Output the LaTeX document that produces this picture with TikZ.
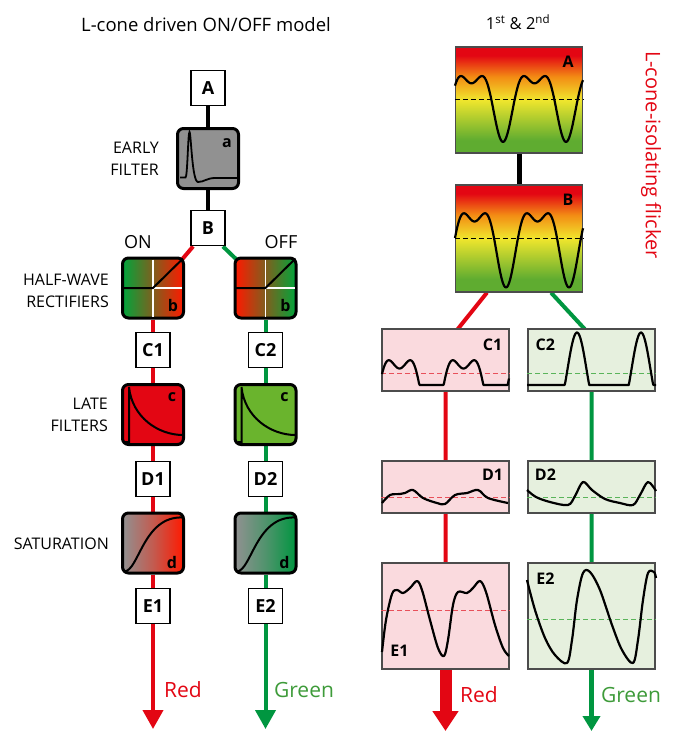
\documentclass[tikz,border=0pt]{standalone}
\usepackage{fontspec}
\setmainfont{Open Sans}
\usetikzlibrary{arrows.meta, backgrounds, math}
\definecolor{myred}{RGB}{227, 6, 19}
\definecolor{mygreen}{RGB}{0, 150, 64}
\definecolor{txtgreen}{RGB}{62, 155, 58}
\definecolor{lategreen}{RGB}{106, 180, 45}
\definecolor{filtgray}{RGB}{145, 145, 145}
\definecolor{pinkbg}{RGB}{250, 218, 222}
\definecolor{greenbg}{RGB}{230, 240, 222}
\definecolor{rectgreen}{RGB}{0, 165, 60}
\definecolor{rectred}{RGB}{255, 25, 0}
\definecolor{flgreen}{RGB}{95, 172, 48}
\definecolor{flyellow}{RGB}{240, 230, 45}
\definecolor{florange}{RGB}{243, 140, 20}
\definecolor{dashred}{RGB}{232, 80, 90}
\definecolor{dashgreen}{RGB}{90, 180, 90}
\pgfdeclareverticalshading{flick}{100bp}{color(0bp)=(flgreen); color(31bp)=(flgreen); color(50bp)=(flyellow); color(61bp)=(florange); color(71bp)=(myred); color(100bp)=(myred)}
\pgfmathdeclarefunction{sig}{1}{\pgfmathparse{cos(#1)-0.5*cos(2*(#1))}}

\tikzset{
  lbox/.style={draw, fill=white, line width=1.8, minimum width=34, minimum height=35, inner sep=0, font=\fontsize{18}{18}\selectfont\bfseries},
  filt/.style={draw, line width=3, rounded corners=6, minimum width=61, minimum height=60, inner sep=0},
  flet/.style={inner sep=0, font=\fontsize{16}{16}\selectfont\bfseries},
  wbox/.style={draw=black!70, line width=1.2, minimum width=127, inner sep=0},
  wlet/.style={inner sep=0, font=\fontsize{16}{16}\selectfont\bfseries},
  side/.style={align=right, anchor=east, inner sep=0, font=\fontsize{16}{22}\selectfont},
  wave/.style={line width=2.2, line join=round},
  mean/.style={line width=1, dash pattern=on 5pt off 3pt},
}

\begin{document}
\begin{tikzpicture}[x=1pt, y=-1pt]
\tikzmath{
\k=360/63;
\kc=360/64;
}
\useasboundingbox (0,0) rectangle (683,732);

%%%%%%%%%% titles
\node[font=\fontsize{18.5}{20}\selectfont] (ttl) at (206,25) {L-cone driven ON/OFF model};
\node[font=\fontsize{16.5}{18}\selectfont] (harm) at (518,22) {1\textsuperscript{st} \& 2\textsuperscript{nd}};
\node[rotate=-90, text=myred, font=\fontsize{20}{22}\selectfont] (flick) at (651,155) {L-cone-isolating flicker};

%%%%%%%%%% left model
\node[lbox] (A) at (208,88) {A};
\node[filt, fill=filtgray] (fa) at (208,158.5) {};
\node[lbox] (B) at (208,228) {B};
\node[side] (early) at (159,159) {EARLY\\FILTER};
\node[flet] (la) at ([xshift=-13,yshift=-16]fa.north east) {a};
\draw[line width=1.8] (180,177.5) -- (185.5,177.5) .. controls (187.5,177.5) and (188,132) .. (189.5,132)
  .. controls (191,132) and (192,182) .. (198,182) .. controls (204,182) and (207,178) .. (215,178) -- (237,178);

\node[font=\fontsize{18}{18}\selectfont, inner sep=0] (on) at (138,242) {ON};
\node[font=\fontsize{18}{18}\selectfont, inner sep=0] (off) at (281,242) {OFF};

% rectifiers
\node[filt, left color=rectgreen, right color=rectred] (fb1) at (153,288) {};
\node[filt, left color=rectred, right color=rectgreen] (fb2) at (265.5,288) {};
\node[side] (half) at (109,290.5) {HALF-WAVE\\RECTIFIERS};
\foreach \f in {fb1,fb2}{
  \draw[white, line width=1.5] ([yshift=-3]\f.north) -- ([yshift=3]\f.south);
  \draw[white, line width=1.5] (\f.center) -- ([xshift=-3]\f.east);
  \draw[line width=2] ([xshift=2]\f.west) -- (\f.center) -- ([xshift=-2,yshift=-2]\f.north east);
  \node[flet] (l\f) at ([xshift=-12,yshift=14]\f.south east) {b};
}

\node[lbox] (C1) at (153,350) {C1};
\node[lbox] (C2) at (265.5,350) {C2};

% late filters
\node[filt, fill=myred] (fc1) at (153,414.5) {};
\node[filt, fill=lategreen] (fc2) at (265.5,414.5) {};
\node[side] (late) at (108,414.5) {LATE\\FILTERS};
\foreach \f in {fc1,fc2}{
  \draw[line width=2] ([xshift=4,yshift=4]\f.south west) -- ([xshift=8,yshift=4]\f.south west) -- ([xshift=8,yshift=-4]\f.north west)
    .. controls +(3,30) and +(-25,0) .. ([xshift=-2,yshift=11]\f.south east);
  \node[flet] (l\f) at ([xshift=-13,yshift=-14]\f.north east) {c};
}

\node[lbox] (D1) at (153,479) {D1};
\node[lbox] (D2) at (265.5,479) {D2};

% saturation
\node[filt, left color=filtgray, right color=rectred, middle color=filtgray!55!rectred] (fd1) at (153,543) {};
\node[filt, left color=filtgray, right color=mygreen, middle color=filtgray!55!mygreen] (fd2) at (265.5,543) {};
\node[side] (sat) at (109,544) {SATURATION};
\foreach \f in {fd1,fd2}{
  \draw[line width=2] ([xshift=3,yshift=3]\f.south west) .. controls +(15,0) and +(-40,-2) .. ([xshift=-2,yshift=-6]\f.north east);
  \node[flet] (l\f) at ([xshift=-13,yshift=12]\f.south east) {d};
}

\node[lbox] (E1) at (153,606) {E1};
\node[lbox] (E2) at (265.5,606) {E2};

\coordinate (redtip) at (153,729);
\coordinate (greentip) at (265.5,729);
\node[text=myred, font=\fontsize{21}{22}\selectfont, inner sep=0] (red) at (183,690) {Red};
\node[text=txtgreen, font=\fontsize{21}{22}\selectfont, inner sep=0] (green) at (304,690) {Green};

\begin{scope}[on background layer]
\draw[line width=4.5] (A) -- (fa) -- (B);
\draw[myred, line width=4] ([xshift=3]B.south west) -- ([xshift=-3,yshift=-3]fb1.north east);
\draw[mygreen, line width=4] ([xshift=-3]B.south east) -- ([xshift=3,yshift=-3]fb2.north west);
\draw[myred, line width=4] (fb1) -- (C1) -- (fc1) -- (D1) -- (fd1) -- (E1);
\draw[mygreen, line width=4] (fb2) -- (C2) -- (fc2) -- (D2) -- (fd2) -- (E2);
\end{scope}
\draw[myred, line width=4, -{Triangle[width=20,length=19]}] (E1) -- (redtip);
\draw[mygreen, line width=4, -{Triangle[width=20,length=19]}] (E2) -- (greentip);

%%%%%%%%%% right responses
\node[wbox, shading=flick, minimum height=106] (rA) at (519,100) {};
\node[wbox, shading=flick, minimum height=107] (rB) at (519,238.5) {};
\node[wlet] (lrA) at ([xshift=-15,yshift=-15]rA.north east) {A};
\node[wlet] (lrB) at ([xshift=-15,yshift=-15]rB.north east) {B};
\draw[mean] (rA.west |- 0,99) -- (rA.east |- 0,99);
\draw[mean] (rB.west |- 0,238) -- (rB.east |- 0,238);
\draw[wave] plot[domain=455:583, samples=129, smooth] (\x, {98-29.3*sig(180+(\x-503)*\k)});
\draw[wave] plot[domain=455:583, samples=129, smooth] (\x, {238-33*sig(180+(\x-506)*\k)});

\node[wbox, fill=pinkbg, minimum height=62] (rC1) at (445.5,360) {};
\node[wbox, fill=greenbg, minimum height=62] (rC2) at (591.5,360) {};
\node[wlet] (lrC1) at ([xshift=-17,yshift=-16]rC1.north east) {C1};
\node[wlet] (lrC2) at ([xshift=18,yshift=-16]rC2.north west) {C2};
\draw[mean, dashred] (rC1.west |- 0,373) -- (rC1.east |- 0,373);
\draw[mean, dashgreen] (rC2.west |- 0,373) -- (rC2.east |- 0,373);
\draw[wave] plot[domain=382:509, samples=200] (\x, {385-33*max(sig((\x-399.5)*\kc),0)});
\draw[wave] plot[domain=527:656, samples=200] (\x, {385-35*max(-sig(180+(\x-577)*\kc),0)});

\node[wbox, fill=pinkbg, minimum height=52] (rD1) at (445.5,487) {};
\node[wbox, fill=greenbg, minimum height=52] (rD2) at (591.5,487) {};
\node[wlet] (lrD1) at ([xshift=-17,yshift=-14]rD1.north east) {D1};
\node[wlet] (lrD2) at ([xshift=18,yshift=-14]rD2.north west) {D2};
\draw[mean, dashred] (rD1.west |- 0,497) -- (rD1.east |- 0,497);
\draw[mean, dashgreen] (rD2.west |- 0,497) -- (rD2.east |- 0,497);
\draw[wave] plot[smooth, tension=0.55] coordinates {(382,503) (390,495) (400,494) (405,493) (413,490) (423,498) (437,503) (445,504)
  (455,495) (467,493) (478,490) (488,498) (508,503)};
\draw[wave] plot[smooth, tension=0.55] coordinates {(527,490) (536,497) (550,502) (568,505) (575,496) (583,482) (592,490)
  (605,499) (620,503) (633,505) (640,495) (648,482) (656,491)};

\node[wbox, fill=pinkbg, minimum height=106] (rE1) at (445.5,616) {};
\node[wbox, fill=greenbg, minimum height=106] (rE2) at (591.5,616) {};
\node[wlet] (lrE1) at ([xshift=18,yshift=19]rE1.south west) {E1};
\node[wlet] (lrE2) at ([xshift=18,yshift=-16]rE2.north west) {E2};
\draw[mean, dashred] (rE1.west |- 0,610) -- (rE1.east |- 0,610);
\draw[mean, dashgreen] (rE2.west |- 0,619) -- (rE2.east |- 0,619);
\draw[wave] plot[smooth, tension=0.55] coordinates {(382,652) (386,620) (392,594) (397,590) (403,593) (410,588) (417,581)
  (422,590) (430,620) (438,648) (444,656) (448,640) (453,605) (458,592) (467,593) (473,588) (480,581) (486,592)
  (495,625) (503,648) (509,656)};
\draw[wave] plot[smooth, tension=0.55] coordinates {(527,580) (535,610) (545,638) (555,655) (567,663) (572,640) (577,600)
  (583,573) (590,572) (600,590) (612,625) (622,650) (633,663) (638,640) (643,600) (648,573) (654,572) (656,578)};

\coordinate (rredtip) at (445.5,731);
\coordinate (rgreentip) at (591.5,731);
\node[text=myred, font=\fontsize{21}{22}\selectfont, inner sep=0] (rred) at (479,695) {Red};
\node[text=txtgreen, font=\fontsize{21}{22}\selectfont, inner sep=0] (rgreen) at (631,695) {Green};

\begin{scope}[on background layer]
\draw[line width=5] (rA) -- (rB);
\draw[myred, line width=4] ([xshift=-32]rB.south) -- ([yshift=-16]rC1.north) -- (rE1);
\draw[mygreen, line width=4] ([xshift=32]rB.south) -- ([yshift=-8]rC2.north) -- (rE2);
\end{scope}
\draw[myred, line width=12, -{Triangle[width=25,length=20]}] (rE1) -- (rredtip);
\draw[mygreen, line width=4.5, -{Triangle[width=17,length=15]}] (rE2) -- (rgreentip);
\end{tikzpicture}
\end{document}
